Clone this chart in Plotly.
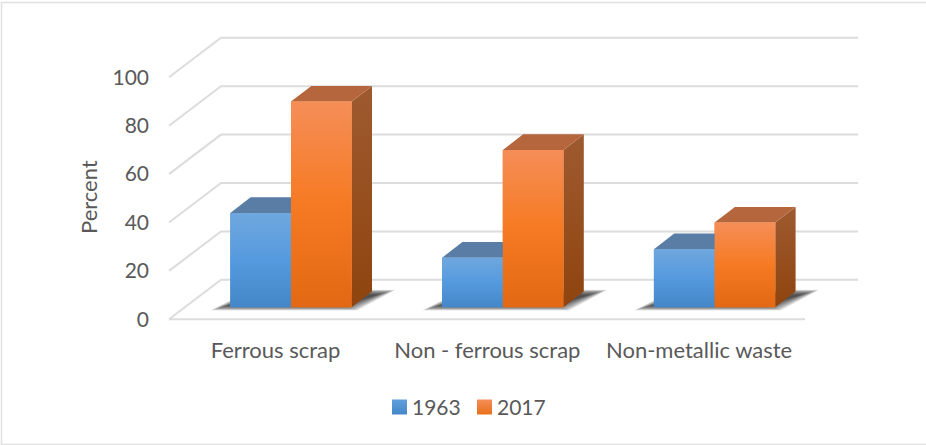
import plotly.graph_objects as go

CATEGORIES = ["Ferrous scrap", "Non - ferrous scrap", "Non-metallic waste"]
SERIES = ["1963", "2017"]
VALUES_1963 = [39, 20.5, 24]
VALUES_2017 = [85, 65, 35]
Y_TICKS = [0, 20, 40, 60, 80, 100]

W, H = 926, 445
FONT = "Lato, Carlito, Calibri, sans-serif"
TXT = "#595959"
GRID = "#dcdcdc"

# chart-space scale
PX_PER_CAT = 211.8
PX_PER_PCT = 2.42
X0_PX = 291.0        # first group's centre on the bar plane
BAR_ZERO_PX = 307.3  # zero of the bar plane
WALL_ZERO_PX = 319.3 # zero of the front of the floor
DEPTH_X = 20.3 / PX_PER_CAT
DEPTH_Y = 15.7 / PX_PER_PCT
BACK_X = 52.0 / PX_PER_CAT
BACK_Y = 39.5 / PX_PER_PCT
GROUP = 121.4 / PX_PER_CAT
BW = GROUP / 2
LEFT = (169 - X0_PX) / PX_PER_CAT
RIGHT = (858 - X0_PX) / PX_PER_CAT
FLOOR_RIGHT = (805 - X0_PX) / PX_PER_CAT
LABEL_SHIFT = 15.5

x_range = [-X0_PX / PX_PER_CAT, (W - X0_PX) / PX_PER_CAT]
y_range = [(BAR_ZERO_PX - H) / PX_PER_PCT, BAR_ZERO_PX / PX_PER_PCT]
y2_range = [(WALL_ZERO_PX - H) / PX_PER_PCT, WALL_ZERO_PX / PX_PER_PCT]

STYLE = {
    "1963": dict(mid="#5b9bd5", grad=[[0, "#4487c8"], [0.5, "#559ade"], [1, "#6fa7de"]],
                 side="#3f6d98", top="#5a7da6", key=("#5f9fdc", "#4487c8")),
    "2017": dict(mid="#f47b25", grad=[[0, "#e26813"], [0.5, "#f67a22"], [1, "#f58e58"]],
                 side="#97501e", top="#b5663c", key=("#f58e58", "#e8701b")),
}

fig = go.Figure()
shapes = []

# gridlines: wall, floor
for t in Y_TICKS:
    pts = f"M{LEFT},{t} L{LEFT + BACK_X},{t + BACK_Y} L{RIGHT},{t + BACK_Y}"
    shapes.append(dict(type="path", path=pts, xref="x", yref="y2", layer="below",
                       line=dict(color=GRID, width=2)))
shapes.append(dict(type="line", x0=LEFT, x1=FLOOR_RIGHT, y0=0, y1=0, xref="x", yref="y2",
                   layer="below", line=dict(color=GRID, width=2)))

# soft shadow behind each group: many faint nested layers
for k in range(len(CATEGORIES)):
    xl, xr = k - BW, k + BW
    for n in range(24):
        a = (23 - n) * 0.8
        ax = a / PX_PER_CAT
        ay = a * 0.3 / PX_PER_PCT
        p = (f"M{xl - 20 / PX_PER_CAT + ax},{-1.3 + ay} "
             f"L{xr + 6 / PX_PER_CAT - ax},{-1.3 + ay} "
             f"L{xr + 44 / PX_PER_CAT - ax},{DEPTH_Y + 0.8 - ay} "
             f"L{xl + 20 / PX_PER_CAT + ax},{DEPTH_Y + 0.8 - ay} Z")
        shapes.append(dict(type="path", path=p, xref="x", yref="y", layer="below",
                           fillcolor="#303030", opacity=0.065, line=dict(width=0)))

# front faces through the bar trace
xs = list(range(len(CATEGORIES)))
for name, vals in zip(SERIES, [VALUES_1963, VALUES_2017]):
    fig.add_trace(go.Bar(x=xs, y=vals, name=name, showlegend=False,
                         marker=dict(color=STYLE[name]["mid"], line=dict(width=0)),
                         hoverinfo="skip"))

# depth faces and gradient on front faces
for idx, (name, vals) in enumerate(zip(SERIES, [VALUES_1963, VALUES_2017])):
    s = STYLE[name]
    for k, v in enumerate(vals):
        xl = k - BW + idx * BW
        xr = xl + BW
        common = dict(mode="lines", line=dict(width=0), fill="toself", showlegend=False, hoverinfo="skip")
        fig.add_trace(go.Scatter(x=[xr, xr + DEPTH_X, xr + DEPTH_X, xr, xr],
                                 y=[0, DEPTH_Y, v + DEPTH_Y, v, 0],
                                 fillgradient=dict(type="vertical",
                                                   colorscale=[[0, "#8f440e"], [1, "#9e5a30"]] if idx else [[0, s["side"]], [1, s["side"]]],
                                                   start=0, stop=v + DEPTH_Y),
                                 **common))
        fig.add_trace(go.Scatter(x=[xl, xr, xr + DEPTH_X, xl + DEPTH_X, xl],
                                 y=[v, v, v + DEPTH_Y, v + DEPTH_Y, v],
                                 fillcolor=s["top"], **common))
        fig.add_trace(go.Scatter(x=[xl, xr, xr, xl, xl], y=[0, 0, v, v, 0],
                                 fillgradient=dict(type="vertical", colorscale=s["grad"], start=0, stop=v),
                                 **common))

# invisible trace carrying the labelled axes
fig.add_trace(go.Scatter(x=xs, y=Y_TICKS[:3], xaxis="x2", yaxis="y2", mode="markers",
                         marker=dict(opacity=0), showlegend=False, hoverinfo="skip"))

# legend key, placed to match the original's tight spacing
LEG_Y = 407
LEG_SWATCH = [399.5, 484.5]
LEG_TEXT = [412, 497]
annotations = [dict(text="Percent", xref="paper", yref="paper", x=88 / W, y=(H - 197) / H,
                    xanchor="center", yanchor="middle",
                    textangle=-90, showarrow=False, font=dict(family=FONT, size=22, color=TXT))]
for name, sx, tx in zip(SERIES, LEG_SWATCH, LEG_TEXT):
    fig.add_trace(go.Scatter(x=[(sx - X0_PX) / PX_PER_CAT], y=[(BAR_ZERO_PX - LEG_Y) / PX_PER_PCT],
                             mode="markers", name=name, showlegend=False, hoverinfo="skip",
                             marker=dict(symbol="square", size=15, color=STYLE[name]["key"][0],
                                         gradient=dict(type="vertical", color=STYLE[name]["key"][1]),
                                         line=dict(width=0))))
    annotations.append(dict(text=name, xref="paper", yref="paper", x=tx / W, y=(H - LEG_Y + 1) / H,
                            xanchor="left", yanchor="middle", showarrow=False, xshift=-2,
                            font=dict(family=FONT, size=21, color=TXT)))

fig.update_layout(
    width=W, height=H, autosize=False,
    margin=dict(l=0, r=0, t=0, b=0),
    paper_bgcolor="white", plot_bgcolor="rgba(0,0,0,0)",
    font=dict(family=FONT, color=TXT, size=21),
    barmode="group", bargap=1 - GROUP, bargroupgap=0,
    showlegend=False,
    xaxis=dict(range=x_range, visible=False, domain=[0, 1], fixedrange=True),
    yaxis=dict(range=y_range, visible=False, domain=[0, 1], fixedrange=True),
    xaxis2=dict(range=[x_range[0] + LABEL_SHIFT / PX_PER_CAT, x_range[1] + LABEL_SHIFT / PX_PER_CAT],
                overlaying="x", anchor="free", position=(H - WALL_ZERO_PX) / H,
                tickmode="array", tickvals=xs, ticktext=CATEGORIES, ticks="",
                ticklabelstandoff=16, showgrid=False, showline=False, zeroline=False, fixedrange=True,
                tickfont=dict(family=FONT, size=22, color=TXT)),
    yaxis2=dict(range=y2_range, overlaying="y", anchor="free", position=169 / W,
                tickmode="array", tickvals=Y_TICKS, ticks="", ticklabelstandoff=20,
                showgrid=False, showline=False, zeroline=False, fixedrange=True,
                tickfont=dict(family=FONT, size=21, color=TXT)),
    shapes=shapes + [dict(type="rect", xref="paper", yref="paper", x0=1.5 / W, x1=1.2,
                          y0=0.5 / H, y1=(H - 2.5) / H, layer="below",
                          line=dict(color="#e0e0e0", width=1.5))],
    annotations=annotations,
)

fig.write_html("out.html", config=dict(displayModeBar=False),
               post_script="document.body.style.margin='0';")
